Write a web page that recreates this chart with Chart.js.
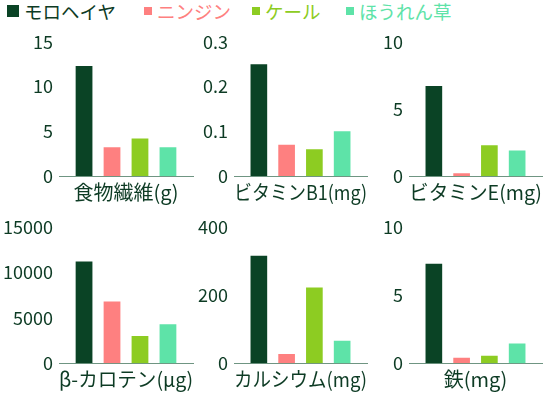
<!DOCTYPE html>
<html>
<head>
<meta charset="utf-8">
<script src="https://cdn.jsdelivr.net/npm/chart.js@4/dist/chart.umd.min.js"></script>
<style>
  body { margin: 0; background: #fff; width: 543px; height: 395px; position: relative; overflow: hidden; font-family: "Noto Sans CJK JP", sans-serif; }
  canvas { position: absolute; }
  .legend-item { position: absolute; top: 0; height: 22px; display: flex; align-items: center; font-size: 18.5px; white-space: nowrap; }
  .legend-item i { display: inline-block; margin-right: 5px; }
</style>
</head>
<body>
<div id="legend"></div>
<canvas id="c0"></canvas>
<canvas id="c1"></canvas>
<canvas id="c2"></canvas>
<canvas id="c3"></canvas>
<canvas id="c4"></canvas>
<canvas id="c5"></canvas>
<script>
const vegetables = ["モロヘイヤ", "ニンジン", "ケール", "ほうれん草"];
const colors = ["#0a4325", "#fe8080", "#8dcc22", "#5ee3a8"];
const titles = ["食物繊維(g)", "ビタミンB1(mg)", "ビタミンE(mg)", "β-カロテン(μg)", "カルシウム(mg)", "鉄(mg)"];

// values per nutrient, in vegetable order
const fiber = [12.3, 3.2, 4.2, 3.2];
const vitaminB1 = [0.25, 0.07, 0.06, 0.1];
const vitaminE = [6.7, 0.2, 2.3, 1.9];
const carotene = [11200, 6800, 3000, 4300];
const calcium = [315, 27, 222, 66];
const iron = [7.3, 0.4, 0.55, 1.45];

const yMax = [15, 0.3, 10, 15000, 400, 10];
const yStep = [5, 0.1, 5, 5000, 200, 5];

const values = [fiber, vitaminB1, vitaminE, carotene, calcium, iron];

const textColor = "#0d3b24";
const axisColor = "#6f9582";
const fontFamily = "'Noto Sans CJK JP', sans-serif";

// canvas placement: [left, width, rightPad] per column, [top, height, topPad, bottomPad] per row
const cols = [[0, 205, 12], [175, 200, 8], [350, 193, 1]];
const rows = [[25, 185, 15, 6], [210, 185, 16.7, 3.7]];

function buildLegend() {
  const legend = document.getElementById("legend");
  const lefts = [7, 144, 252, 346];
  const sizes = [12, 8, 8, 8];
  vegetables.forEach((name, i) => {
    const item = document.createElement("div");
    item.className = "legend-item";
    item.style.left = lefts[i] + "px";
    item.style.color = i === 0 ? textColor : colors[i];
    const sq = document.createElement("i");
    sq.style.width = sizes[i] + "px";
    sq.style.height = sizes[i] + "px";
    sq.style.background = colors[i];
    item.appendChild(sq);
    item.appendChild(document.createTextNode(name));
    legend.appendChild(item);
  });
}

function makeChart(idx) {
  const col = cols[idx % 3];
  const row = rows[Math.floor(idx / 3)];
  const canvas = document.getElementById("c" + idx);
  canvas.width = col[1];
  canvas.height = row[1];
  canvas.style.left = col[0] + "px";
  canvas.style.top = row[0] + "px";

  new Chart(canvas, {
    type: "bar",
    data: {
      labels: [""],
      datasets: vegetables.map((name, i) => ({
        label: name,
        data: [values[idx][i]],
        backgroundColor: colors[i],
        barPercentage: 0.6,
        categoryPercentage: 0.835,
      })),
    },
    options: {
      responsive: false,
      devicePixelRatio: 1,
      animation: false,
      layout: { padding: { top: row[2], bottom: row[3], left: 0, right: col[2] } },
      plugins: { legend: { display: false }, tooltip: { enabled: false } },
      scales: {
        x: {
          grid: { display: false, drawTicks: false },
          border: { display: true, color: axisColor, width: 1 },
          ticks: { display: false },
          title: {
            display: true,
            text: titles[idx],
            color: textColor,
            font: { family: fontFamily, size: 20 },
            padding: { top: 4, bottom: 0 },
          },
          afterFit: (s) => { s.height = 28; },
        },
        y: {
          min: 0,
          max: yMax[idx],
          grid: { display: false, drawTicks: false },
          border: { display: false },
          ticks: {
            stepSize: yStep[idx],
            padding: 6,
            color: textColor,
            font: { family: fontFamily, size: 18 },
            callback: (v) => String(Math.round(v * 1000) / 1000),
          },
          afterFit: (s) => { s.width = 59; },
        },
      },
    },
  });
}

buildLegend();
for (let i = 0; i < 6; i++) makeChart(i);
</script>
</body>
</html>
